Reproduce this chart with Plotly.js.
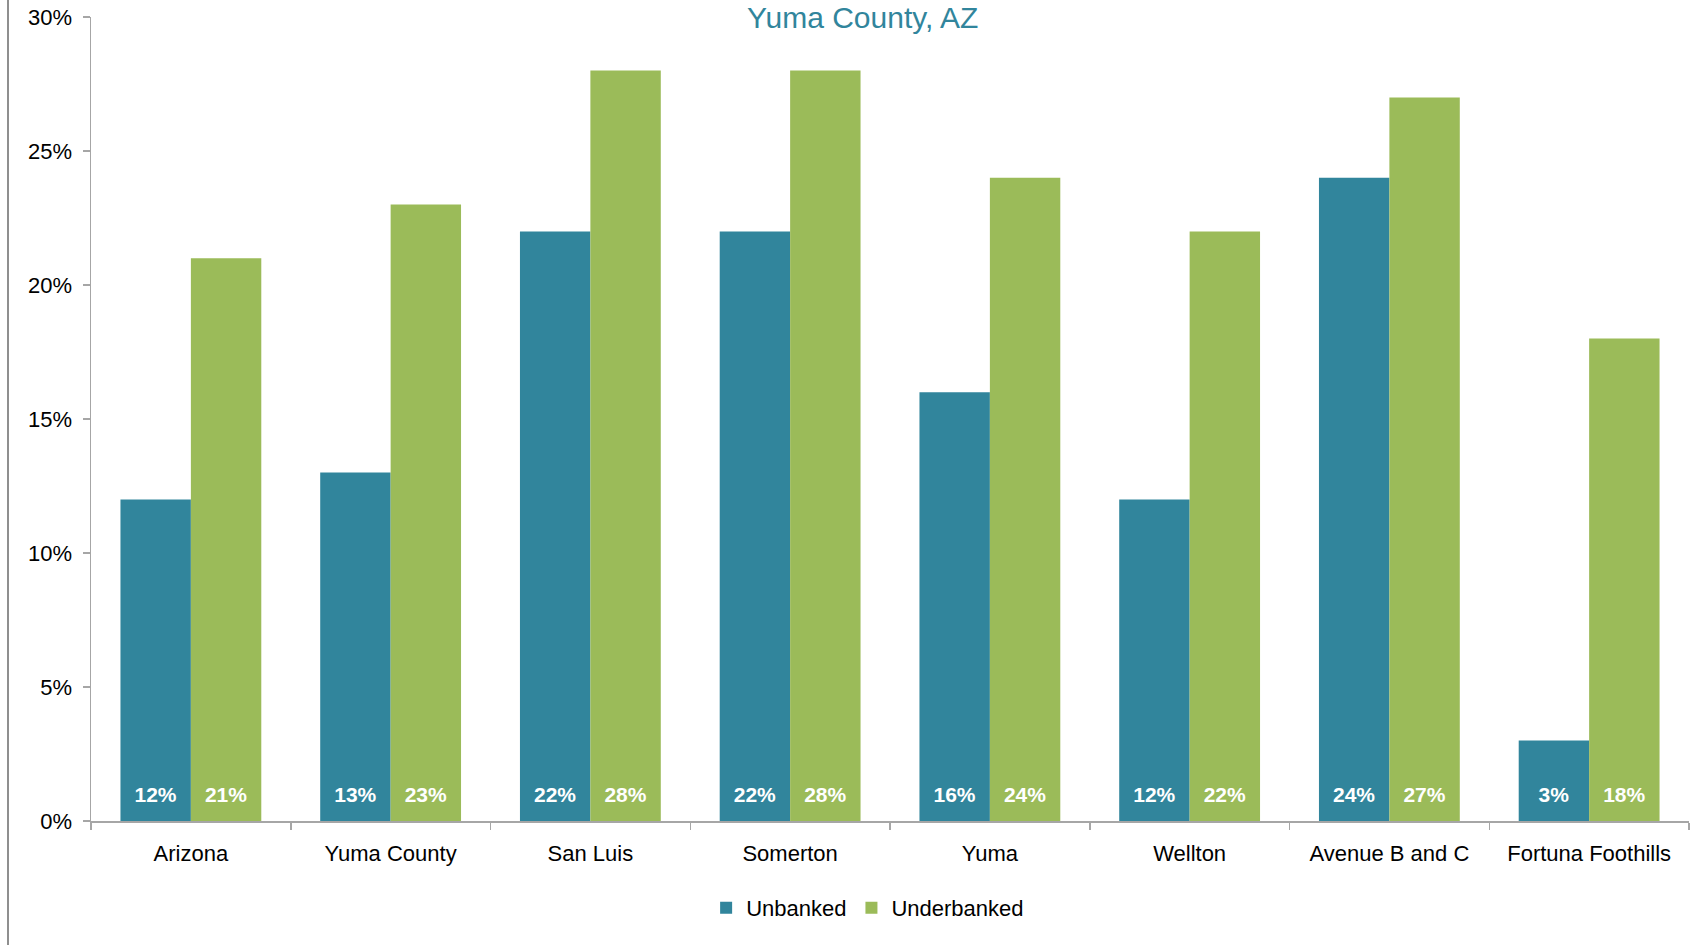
<!DOCTYPE html>
<html>
<head>
<meta charset="utf-8">
<script src="https://cdn.plot.ly/plotly-3.0.1.min.js"></script>
<style>
  html, body { margin: 0; padding: 0; background: #fff; }
  #chart { width: 1705px; height: 945px; position: relative; }
  #edge { position: absolute; left: 7px; top: 0; width: 2px; height: 945px; background: #8f8f8f; z-index: 5; }
</style>
</head>
<body>
<div id="edge"></div>
<div id="chart"></div>
<script>
const categories = ["Arizona", "Yuma County", "San Luis", "Somerton", "Yuma", "Wellton", "Avenue B and C", "Fortuna Foothills"];
const unbanked = [0.12, 0.13, 0.22, 0.22, 0.16, 0.12, 0.24, 0.03];
const underbanked = [0.21, 0.23, 0.28, 0.28, 0.24, 0.22, 0.27, 0.18];
const seriesNames = ["Unbanked", "Underbanked"];
const chartTitle = "Yuma County, AZ";

const FONT = '"Liberation Sans", Arial, sans-serif';
const barText = {
  textposition: 'inside',
  insidetextanchor: 'start',
  texttemplate: '<span style="font-size:21px">%{y:.0%}</span><br> ',
  textfont: { family: FONT, size: 11, color: '#ffffff', weight: 'bold' },
  textangle: 0,
  cliponaxis: false,
  hoverinfo: 'skip'
};

const traces = [
  Object.assign({ type: 'bar', name: seriesNames[0], x: categories, y: unbanked, marker: { color: '#31859C' } }, barText),
  Object.assign({ type: 'bar', name: seriesNames[1], x: categories, y: underbanked, marker: { color: '#9BBB59' } }, barText)
];

const layout = {
  width: 1705, height: 945,
  paper_bgcolor: '#ffffff', plot_bgcolor: '#ffffff',
  margin: { l: 91, r: 16, t: 17, b: 124 },
  font: { family: FONT, size: 22, color: '#000000' },
  title: {
    text: chartTitle,
    font: { family: FONT, size: 30, color: '#31859C' },
    x: 0.506, xref: 'container', xanchor: 'center',
    y: 0.982, yref: 'container', yanchor: 'middle'
  },
  barmode: 'group',
  bargap: 0.295,
  bargroupgap: 0,
  showlegend: true,
  legend: {
    orientation: 'h', x: 0.486, xanchor: 'center', y: -0.108, yanchor: 'middle',
    font: { family: FONT, size: 22, color: '#000000' },
    itemwidth: 30, traceorder: 'normal'
  },
  xaxis: {
    type: 'category',
    showline: true, linecolor: '#A6A6A6', linewidth: 1.5,
    ticks: 'outside', tickson: 'boundaries', ticklen: 7, tickcolor: '#A6A6A6', tickwidth: 1.5,
    showgrid: false, zeroline: false,
    tickfont: { family: FONT, size: 22, color: '#000000' },
    ticklabelstandoff: 12
  },
  yaxis: {
    range: [0, 0.30], dtick: 0.05, tick0: 0, tickformat: '.0%',
    showline: true, linecolor: '#A6A6A6', linewidth: 1.5,
    ticks: 'outside', ticklen: 7, tickcolor: '#A6A6A6', tickwidth: 1.5,
    showgrid: false, zeroline: false,
    tickfont: { family: FONT, size: 22, color: '#000000' },
    ticklabelstandoff: 6
  }
};

Plotly.newPlot('chart', traces, layout, { displayModeBar: false, staticPlot: true });
</script>
</body>
</html>
